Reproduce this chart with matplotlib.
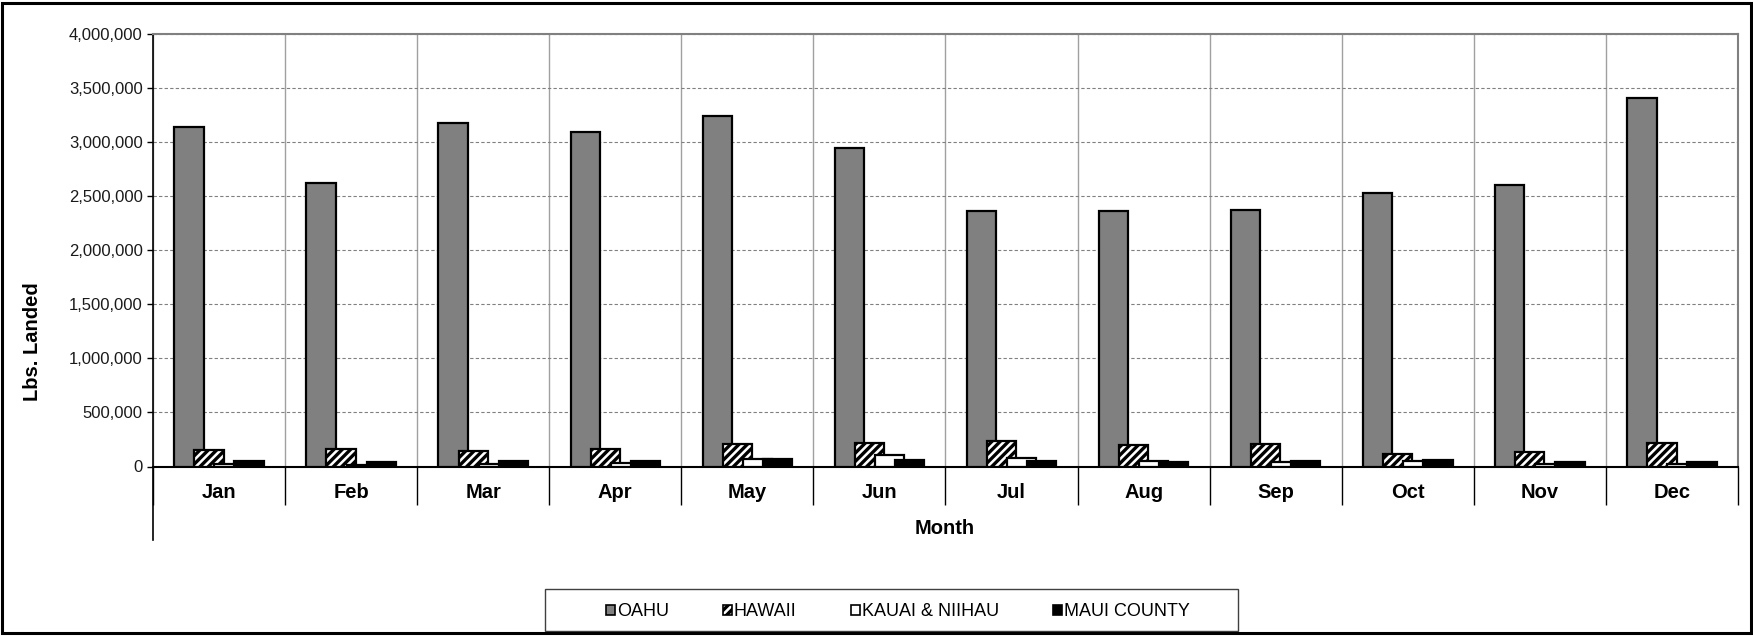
import numpy as np
import matplotlib
matplotlib.use("Agg")
import matplotlib.pyplot as plt
from matplotlib.patches import Patch, Rectangle
from matplotlib.ticker import FuncFormatter

plt.rcParams['font.family'] = ['Liberation Sans', 'DejaVu Sans']
plt.rcParams['hatch.linewidth'] = 2.4

# Monthly landings (lbs)
months = ["Jan", "Feb", "Mar", "Apr", "May", "Jun", "Jul", "Aug", "Sep", "Oct", "Nov", "Dec"]
oahu = [3140000, 2620000, 3175000, 3090000, 3240000, 2945000, 2360000, 2360000, 2370000, 2530000, 2600000, 3410000]
hawaii = [155000, 160000, 145000, 160000, 205000, 215000, 235000, 195000, 205000, 120000, 130000, 220000]
kauai = [20000, 15000, 25000, 35000, 70000, 110000, 80000, 55000, 40000, 50000, 25000, 25000]
maui = [50000, 40000, 50000, 55000, 65000, 60000, 50000, 40000, 55000, 60000, 45000, 45000]

series = [
    ("OAHU", oahu, "#808080", None),
    ("HAWAII", hawaii, "white", "////"),
    ("KAUAI & NIIHAU", kauai, "white", None),
    ("MAUI COUNTY", maui, "black", None),
]

fig = plt.figure(figsize=(17.53, 6.36), dpi=100)
ax = fig.add_axes([153 / 1753, 1 - 466.5 / 636, (1738 - 153) / 1753, (466.5 - 34) / 636])

x = np.arange(len(months))
step = 0.152
width = 0.222
for i, (name, vals, color, hatch) in enumerate(series):
    ax.bar(x + (i - 1.5) * step, vals, width=width, color=color, edgecolor="black",
           linewidth=1.6, hatch=hatch, zorder=3 + i)

ax.set_xlim(-0.5, 11.5)
ax.set_ylim(0, 4000000)
ax.set_yticks(np.arange(0, 4000001, 500000))
ax.yaxis.set_major_formatter(FuncFormatter(lambda v, p: f"{int(v):,}"))
ax.tick_params(axis="y", length=4.5, width=1, labelsize=12, labelcolor="#1a1a1a", pad=3)

ax.set_xticks(x)
ax.set_xticklabels(months, fontsize=14.5, fontweight="bold")
ax.set_xticks(np.arange(-0.5, 12, 1), minor=True)
ax.tick_params(axis="x", which="major", length=0, pad=12)
ax.tick_params(axis="x", which="minor", length=27, width=1, color="black")

ax.grid(axis="y", which="major", color="#808080", linestyle=(0, (3, 2)), linewidth=0.8, zorder=0)
ax.grid(axis="x", which="minor", color="#a0a0a0", linestyle="-", linewidth=1, zorder=0)
ax.grid(axis="x", which="major", visible=False)
ax.set_axisbelow(True)

ax.spines["left"].set_color("black")
ax.spines["left"].set_linewidth(1.2)
ax.spines["bottom"].set_color("black")
ax.spines["bottom"].set_linewidth(1.5)
for s in ["top", "right"]:
    ax.spines[s].set_color("#808080")
    ax.spines[s].set_linewidth(1.5)

# left axis line continues below the category band
ax.plot([0, 0], [0, -0.17], transform=ax.transAxes, color="black", lw=1.2, clip_on=False)

fig.text(33 / 1753, 1 - 342 / 636, "Lbs. Landed", rotation=90, ha="center", va="center",
         fontsize=14.5, fontweight="bold")
fig.text(945 / 1753, 1 - 529 / 636, "Month", ha="center", va="center",
         fontsize=14.5, fontweight="bold")

handles = [Patch(facecolor=c, edgecolor="black", hatch=h, label=n, linewidth=1.2)
           for n, v, c, h in series]
fig.legend(handles=handles, loc="center left", bbox_to_anchor=(597 / 1753, 1 - 612 / 636),
           ncol=4, frameon=False, fontsize=13, borderpad=0, handlelength=0.5,
           handleheight=0.5, handletextpad=0.1, columnspacing=3.0)
fig.add_artist(Rectangle((545 / 1753, 1 - 630.5 / 636), (1237.6 - 545) / 1753, 41.5 / 636,
                         transform=fig.transFigure, fill=False, edgecolor="#404040", lw=1))

# outer chart border
fig.add_artist(Rectangle((0.0014, 0.004), 0.9972, 0.992, transform=fig.transFigure,
                         fill=False, edgecolor="black", lw=2.2))

fig.savefig("out.png", dpi=100)
